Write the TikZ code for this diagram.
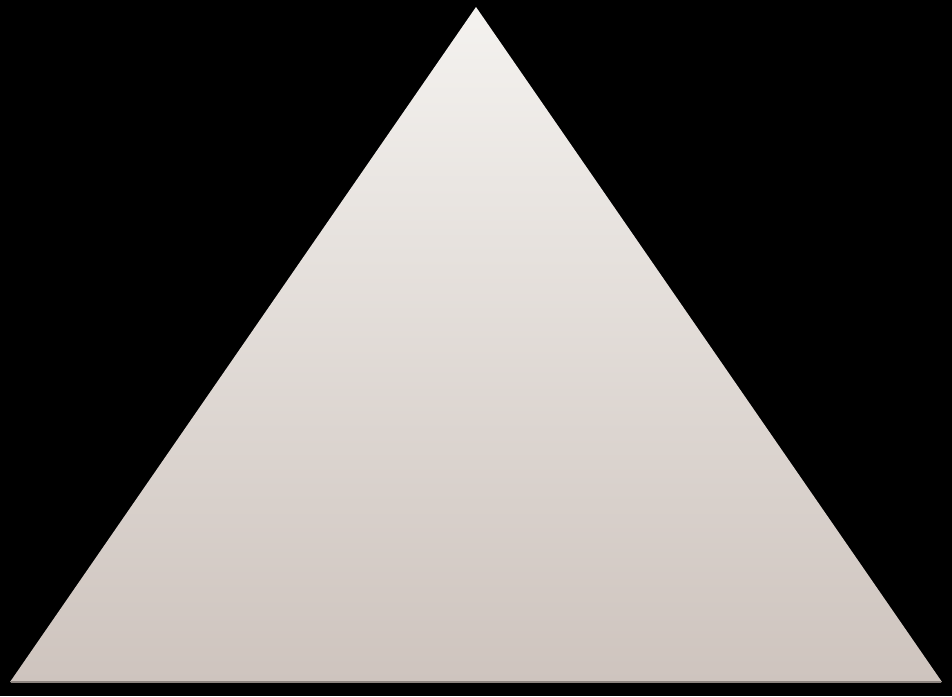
\documentclass[tikz,border=0pt]{standalone}
\begin{document}
\begin{tikzpicture}[x=1pt,y=-1pt]
\definecolor{topc}{HTML}{F4F2EF}
\definecolor{midc}{HTML}{E5DCDA}
\definecolor{botc}{HTML}{CEC4BE}
\definecolor{edgec}{HTML}{8E8580}
\fill[black] (0,0) rectangle (952,696);
\useasboundingbox (0,0) rectangle (952,696);
\coordinate (apex) at (476,7);
\coordinate (bl) at (10,682);
\coordinate (br) at (942,682);
\shade[top color=topc, middle color=midc, bottom color=botc] (apex) -- (br) -- (bl) -- cycle;
\draw[edgec, line width=1.5pt] ([xshift=1pt]bl) -- ([xshift=-1pt]br);
\end{tikzpicture}
\end{document}
